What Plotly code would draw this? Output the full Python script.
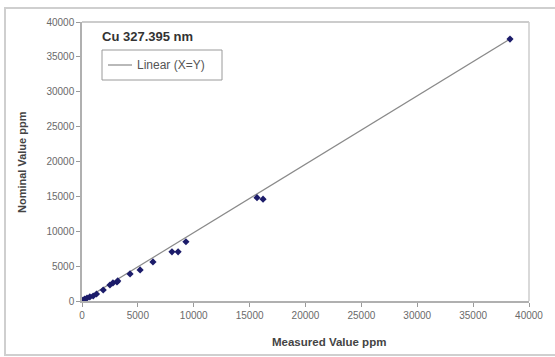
import plotly.graph_objects as go

# Measured vs nominal copper concentrations (ppm)
measured = [100, 250, 450, 700, 1000, 1300, 1900, 2500, 2770, 3130, 3200,
            4300, 5200, 6350, 8050, 8600, 9300, 15660, 16200, 38300]
nominal = [140, 290, 430, 580, 720, 1000, 1580, 2300, 2590, 2730, 2880,
           3880, 4460, 5600, 7050, 7050, 8500, 14820, 14600, 37550]
tick_vals = [0, 5000, 10000, 15000, 20000, 25000, 30000, 35000, 40000]
tick_text = ["0", "5000", "10000", "15000", "20000", "25000", "30000", "35000", "40000"]

W, H = 555, 357
L, R, T, B = 82, 26, 22, 56
pw, ph = W - L - R, H - T - B


def px_x(p):
    return (p - L) / pw


def px_y(p):
    return (H - B - p) / ph


# straight line from the origin through the highest standard
top = measured.index(max(measured))
slope = nominal[top] / measured[top]
fit_x = [0, measured[top]]
fit_y = [slope * v for v in fit_x]

fig = go.Figure()
fig.add_trace(go.Scatter(
    x=fit_x, y=fit_y, mode="lines", name="Linear (X=Y)",
    line=dict(color="#8a8a8a", width=1.2), showlegend=False))
fig.add_trace(go.Scatter(
    x=measured, y=nominal, mode="markers", name="X=Y",
    marker=dict(symbol="diamond", size=5.5, color="#1c1c6a"), showlegend=False))

axis_common = dict(
    range=[0, 40000], tickvals=tick_vals, ticktext=tick_text,
    ticks="outside", ticklen=4,
    tickcolor="#9a9a9a", showgrid=False, zeroline=False, showline=True,
    linecolor="#b0b0b0", linewidth=1.5,
    tickfont=dict(family="Liberation Sans", size=10, color="#6a6a6a"),
)
fig.update_xaxes(**axis_common)
fig.update_yaxes(**axis_common)

shapes = [
    # outer chart frame
    dict(type="rect", xref="paper", yref="paper",
         x0=px_x(5), x1=px_x(562), y0=px_y(355), y1=px_y(8),
         line=dict(color="#cfcfcf", width=2), layer="below"),
    # plot area frame (top and right)
    dict(type="line", xref="paper", yref="paper", x0=0, x1=1, y0=1, y1=1,
         line=dict(color="#cccccc", width=2)),
    dict(type="line", xref="paper", yref="paper", x0=1, x1=1, y0=0, y1=1,
         line=dict(color="#cccccc", width=1.5)),
    # legend box and line sample
    dict(type="rect", xref="paper", yref="paper",
         x0=px_x(102), x1=px_x(222), y0=px_y(80), y1=px_y(50),
         line=dict(color="#9a9a9a", width=1), fillcolor="white"),
    dict(type="line", xref="paper", yref="paper",
         x0=px_x(108), x1=px_x(132), y0=px_y(65), y1=px_y(65),
         line=dict(color="#8a8a8a", width=1.2)),
]

annotations = [
    dict(text="<b>Cu 327.395 nm</b>", xref="paper", yref="paper",
         x=px_x(100), y=px_y(36), xanchor="left", yanchor="middle",
         showarrow=False, font=dict(family="Liberation Sans", size=13, color="#333333")),
    dict(text="Linear (X=Y)", xref="paper", yref="paper",
         x=px_x(135), y=px_y(65), xanchor="left", yanchor="middle",
         showarrow=False, font=dict(family="Liberation Sans", size=12, color="#555555")),
    dict(text="<b>Measured Value ppm</b>", xref="paper", yref="paper",
         x=px_x(329), y=px_y(342), xanchor="center", yanchor="middle",
         showarrow=False, font=dict(family="Liberation Sans", size=11.5, color="#444444")),
    dict(text="<b>Nominal Value ppm</b>", xref="paper", yref="paper",
         x=px_x(22), y=px_y(162), xanchor="center", yanchor="middle", textangle=-90,
         showarrow=False, font=dict(family="Liberation Sans", size=11, color="#444444")),
]

fig.update_layout(
    width=W, height=H,
    margin=dict(l=L, r=R, t=T, b=B),
    paper_bgcolor="white", plot_bgcolor="white",
    shapes=shapes, annotations=annotations,
    showlegend=False,
)

fig.write_html("out.html")
